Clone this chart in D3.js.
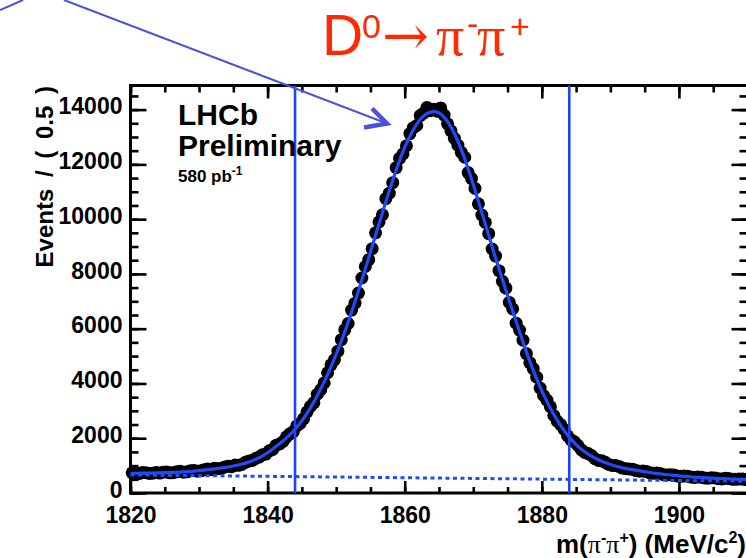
<!DOCTYPE html>
<html>
<head>
<meta charset="utf-8">
<script src="https://cdn.jsdelivr.net/npm/d3@7"></script>
<style>
  body { margin: 0; background: #fff; }
  svg { display: block; font-family: "Liberation Sans", Arial, Helvetica, sans-serif; }
</style>
</head>
<body>
<svg id="chart" width="746" height="558"></svg>
<script>
// histogram: 180 bins of 0.5 MeV between 1820 and 1910
var binStart = 1820, binWidth = 0.5;
var events = [
  735, 705, 710, 748, 740, 715, 722, 751, 728, 760,
  770, 736, 741, 778, 790, 760, 772, 812, 820, 798,
  808, 850, 872, 851, 905, 886, 900, 952, 976, 962,
  1020, 1010, 1045, 1120, 1165, 1190, 1262, 1310, 1395, 1420,
  1540, 1590, 1745, 1790, 1880, 2050, 2160, 2240, 2450, 2540,
  2710, 2960, 3160, 3300, 3610, 3770, 4020, 4390, 4680, 4870,
  5180, 5600, 5960, 6190, 6680, 6930, 7300, 7850, 8270, 8520,
  8920, 9500, 9900, 10160, 10750, 10950, 11330, 11880, 12220, 12380,
  12680, 13120, 13340, 13420, 13780, 13870, 14080, 13960, 14010, 13940,
  14060, 13800, 13480, 13220, 12950, 12700, 12440, 12260, 11700, 11480,
  11120, 10560, 10150, 9880, 9470, 8910, 8650, 8120, 7730, 7480,
  6960, 6720, 6200, 5950, 5580, 5090, 4760, 4540, 4230, 3830,
  3560, 3390, 3150, 2830, 2620, 2500, 2320, 2090, 1940, 1870,
  1740, 1580, 1480, 1440, 1370, 1250, 1190, 1175, 1120, 1045,
  1005, 1000, 970, 910, 885, 880, 865, 818, 798, 805,
  782, 738, 720, 730, 710, 670, 660, 668, 655, 620,
  608, 625, 612, 582, 570, 588, 575, 550, 540, 556,
  548, 522, 515, 535, 528, 505, 498, 515, 508, 490
];

// fitted total pdf, one value per MeV from 1820 to 1910
var fitStart = 1820;
var fitEvents = [
  720, 722, 725, 729, 734, 742, 751, 762, 776, 793,
  815, 842, 872, 905, 940, 985, 1040, 1110, 1200, 1320,
  1470, 1650, 1850, 2070, 2330, 2640, 3010, 3440, 3930, 4470,
  5060, 5710, 6420, 7180, 7980, 8800, 9620, 10440, 11230, 11970,
  12620, 13150, 13560, 13820, 13920, 13880, 13650, 13250, 12700, 12020,
  11260, 10450, 9620, 8790, 7990, 7220, 6460, 5700, 4980, 4320,
  3730, 3210, 2760, 2370, 2040, 1770, 1550, 1380, 1240, 1130,
  1040, 970, 910, 860, 820, 780, 740, 705, 675, 650,
  625, 605, 585, 570, 555, 542, 530, 520, 510, 502,
  495
];

// background component (dotted)
var bgMass = [1820, 1910];
var bgEvents = [660, 430];

// signal window
var windowEdges = [1844, 1884];

var xTicks = [1820, 1840, 1860, 1880, 1900];
var yTicks = [0, 2000, 4000, 6000, 8000, 10000, 12000, 14000];

var svg = d3.select("#chart");

var x = d3.scaleLinear().domain([1820, 1910]).range([130.5, 747.5]);
var y = d3.scaleLinear().domain([0, 14880]).range([493, 85.5]);

var blue = "#1f4bff";

function tidy(g, labels) {
  g.select(".domain").remove();
  g.selectAll(".tick line").attr("stroke", "#000").attr("stroke-width", 2.6);
  g.selectAll(".tick text")
    .attr("fill", "#000")
    .attr("font-size", 23)
    .attr("font-weight", "bold")
    .attr("font-family", "'Liberation Sans', Arial, sans-serif");
  if (!labels) g.selectAll(".tick text").remove();
}

var yMinor = d3.range(0, 14880, 500);
var xMinor = d3.range(1820, 1911, 5);

// left axis
svg.append("g").attr("transform", "translate(" + x(1820) + ",0)")
  .call(d3.axisLeft(y).tickValues(yMinor).tickSize(-8)).call(tidy, false);
svg.append("g").attr("transform", "translate(" + x(1820) + ",0)")
  .call(d3.axisLeft(y).tickValues(yTicks).tickSize(-16).tickPadding(8).tickFormat(d3.format("d")))
  .call(tidy, true)
  .selectAll(".tick text").attr("dy", "0.18em");
// right axis
svg.append("g").attr("transform", "translate(" + x(1910) + ",0)")
  .call(d3.axisRight(y).tickValues(yMinor).tickSize(-8)).call(tidy, false);
svg.append("g").attr("transform", "translate(" + x(1910) + ",0)")
  .call(d3.axisRight(y).tickValues(yTicks).tickSize(-16)).call(tidy, false);
// bottom axis
svg.append("g").attr("transform", "translate(0," + y(0) + ")")
  .call(d3.axisBottom(x).tickValues(xMinor).tickSize(-6)).call(tidy, false);
svg.append("g").attr("transform", "translate(0," + y(0) + ")")
  .call(d3.axisBottom(x).tickValues(xTicks).tickSize(-12).tickPadding(14).tickFormat(d3.format("d")))
  .call(tidy, true);
// top axis
svg.append("g").attr("transform", "translate(0," + y(14880) + ")")
  .call(d3.axisTop(x).tickValues(xMinor).tickSize(-7)).call(tidy, false);
svg.append("g").attr("transform", "translate(0," + y(14880) + ")")
  .call(d3.axisTop(x).tickValues(xTicks).tickSize(-13)).call(tidy, false);

// frame
svg.append("rect")
  .attr("x", x(1820)).attr("y", y(14880))
  .attr("width", x(1910) - x(1820)).attr("height", y(0) - y(14880))
  .attr("fill", "none").attr("stroke", "#000").attr("stroke-width", 3);

// data points
svg.append("g").selectAll("circle")
  .data(events)
  .enter().append("circle")
    .attr("cx", function(d, i) { return x(binStart + (i + 0.5) * binWidth); })
    .attr("cy", function(d) { return y(d); })
    .attr("r", 6.5)
    .attr("fill", "#000");

// fit curve
var line = d3.line()
  .x(function(d, i) { return x(fitStart + i); })
  .y(function(d) { return y(d); })
  .curve(d3.curveNatural);

svg.append("path")
  .datum(fitEvents)
  .attr("d", line)
  .attr("fill", "none")
  .attr("stroke", blue)
  .attr("stroke-width", 3.2);

// background
svg.append("path")
  .datum(bgEvents)
  .attr("d", d3.line().x(function(d, i) { return x(bgMass[i]); }).y(function(d) { return y(d); }))
  .attr("fill", "none")
  .attr("stroke", blue)
  .attr("stroke-width", 3)
  .attr("stroke-dasharray", "4 3.5");

// window lines
svg.append("g").selectAll("line")
  .data(windowEdges)
  .enter().append("line")
    .attr("x1", function(d) { return x(d); })
    .attr("x2", function(d) { return x(d); })
    .attr("y1", y(14880))
    .attr("y2", y(0))
    .attr("stroke", "#1d44f5")
    .attr("stroke-width", 2.6);

// LHCb label
svg.append("text").attr("x", 178).attr("y", 125)
  .attr("font-size", 30).attr("font-weight", "bold").text("LHCb");
svg.append("text").attr("x", 178).attr("y", 156)
  .attr("font-size", 30).attr("font-weight", "bold").text("Preliminary");
var lumi = svg.append("text").attr("x", 178).attr("y", 182)
  .attr("font-size", 17).attr("font-weight", "bold");
lumi.append("tspan").text("580 pb");
lumi.append("tspan").attr("dy", -7).attr("font-size", 12).text("-1");

// axis titles
var xt = svg.append("text")
  .attr("x", 746).attr("y", 553)
  .attr("text-anchor", "end")
  .attr("font-size", 26).attr("font-weight", "bold");
xt.append("tspan").text("m(");
xt.append("tspan").attr("font-family", "'Liberation Serif', serif").attr("font-weight", "normal").text("\u03c0");
xt.append("tspan").attr("dy", -10).attr("font-size", 16).text("-");
xt.append("tspan").attr("dy", 10).attr("font-family", "'Liberation Serif', serif").attr("font-weight", "normal").text("\u03c0");
xt.append("tspan").attr("dy", -10).attr("font-size", 16).text("+");
xt.append("tspan").attr("dy", 10).text(") (MeV/c");
xt.append("tspan").attr("dy", -10).attr("font-size", 16).text("2");
xt.append("tspan").attr("dy", 10).text(")");

svg.append("text")
  .attr("transform", "translate(53,86) rotate(-90)")
  .attr("text-anchor", "end")
  .attr("font-size", 24).attr("font-weight", "bold")
  .attr("word-spacing", 5)
  .text("Events / ( 0.5 )");

// title
var red = "#ff2a00";
var title = svg.append("g").attr("fill", red);
title.append("text").attr("x", 322).attr("y", 55).attr("font-size", 57).text("D");
title.append("text").attr("x", 362).attr("y", 38).attr("font-size", 34).text("0");
title.append("text").attr("x", 382).attr("y", 55).attr("font-size", 56)
  .attr("font-family", "'DejaVu Serif', serif").text("\u2192");
title.append("text").attr("x", 436).attr("y", 55).attr("font-size", 56)
  .attr("font-family", "'Liberation Serif', serif").text("\u03c0");
title.append("text").attr("x", 467).attr("y", 35).attr("font-size", 34).text("-");
title.append("text").attr("x", 477).attr("y", 55).attr("font-size", 56)
  .attr("font-family", "'Liberation Serif', serif").text("\u03c0");
title.append("text").attr("x", 510).attr("y", 38).attr("font-size", 34).text("+");

// annotation arrow coming from outside the frame
var arrowColor = "#4c52dd";
var tip = [387, 123.5];
svg.append("line").attr("x1", 64).attr("y1", 0).attr("x2", tip[0]).attr("y2", tip[1])
  .attr("stroke", arrowColor).attr("stroke-width", 2);
svg.append("line").attr("x1", 0).attr("y1", 10).attr("x2", 23).attr("y2", 0)
  .attr("stroke", arrowColor).attr("stroke-width", 2);
svg.append("path")
  .attr("d", "M" + (tip[0] - 15) + "," + (tip[1] - 15) + "L" + tip[0] + "," + tip[1] + "L" + (tip[0] - 23) + "," + (tip[1] + 4))
  .attr("fill", "none").attr("stroke", arrowColor).attr("stroke-width", 4.5)
  .attr("stroke-linejoin", "miter");
</script>
</body>
</html>
